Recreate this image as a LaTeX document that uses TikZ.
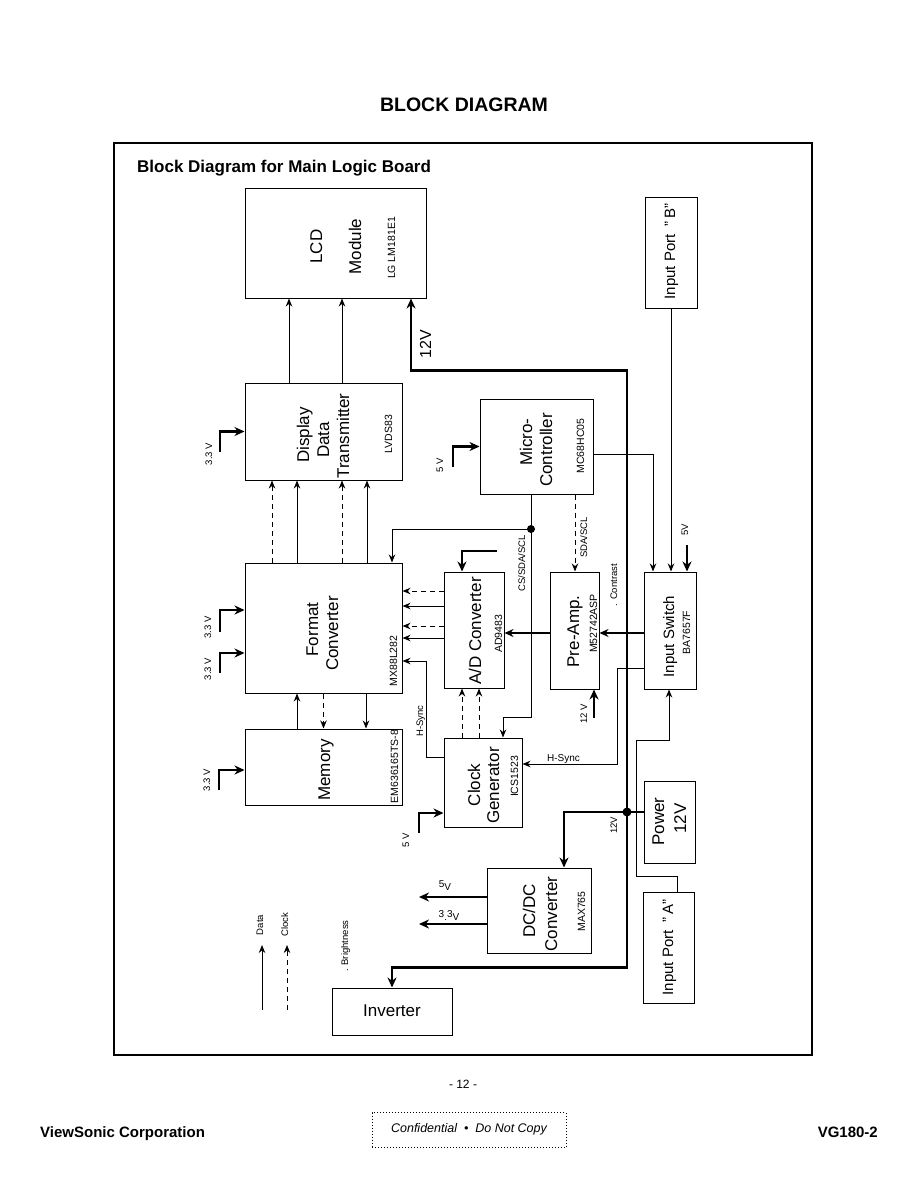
\documentclass[tikz,border=0pt]{standalone}
\usepackage{fontspec}
\setmainfont{Liberation Sans}
\usetikzlibrary{arrows.meta}
\newcommand{\sq}{{\char34}}
\begin{document}
\begin{tikzpicture}[x=1pt,y=-1pt,
  blk/.style={draw,line width=1pt,inner sep=0pt},
  big/.style={font=\fontsize{17}{20}\selectfont,rotate=90,anchor=base,inner sep=0pt},
  mid/.style={font=\fontsize{15}{18}\selectfont,rotate=90,anchor=base,inner sep=0pt},
  part/.style={font=\fontsize{10.5}{12}\selectfont,rotate=90,anchor=base,inner sep=0pt},
  lab/.style={font=\fontsize{9.5}{11}\selectfont,rotate=90,anchor=base,inner sep=0pt},
  hlab/.style={font=\fontsize{10}{11}\selectfont,anchor=base,inner sep=0pt},
  sig/.style={line width=1pt,-{Stealth[length=8pt,width=6.5pt]}},
  dsig/.style={sig,dash pattern=on 5pt off 4pt},
  med/.style={line width=1.8pt,-{Stealth[length=9pt,width=8pt]}},
  pwr/.style={line width=2.6pt,-{Stealth[length=10pt,width=9pt]}},
  pwire/.style={line width=2.6pt}]
\fill[white] (0,0) rectangle (918,1188);
\useasboundingbox (0,0) rectangle (918,1188);

% titles and frame
\node[font=\bfseries\fontsize{19.5}{22}\selectfont,inner sep=0pt] (title) at (464,105) {BLOCK DIAGRAM};
\node[draw,line width=1.2pt,minimum width=698,minimum height=912,inner sep=0pt] (frame) at (463,599) {};
\node[font=\bfseries\fontsize{17}{20}\selectfont,anchor=base west,inner sep=0pt] (subtitle) at (137,172) {Block Diagram for Main Logic Board};

% boxes
\node[blk,minimum width=181,minimum height=110] (lcd) at (335.5,243) {};
\node[blk,minimum width=157,minimum height=97] (ddt) at (323.5,431.5) {};
\node[blk,minimum width=113,minimum height=95] (mcu) at (536.5,446.5) {};
\node[blk,minimum width=157,minimum height=130] (fc) at (323.5,628) {};
\node[blk,minimum width=60,minimum height=116] (ad) at (474,630) {};
\node[blk,minimum width=49,minimum height=117] (pre) at (574.5,630.5) {};
\node[blk,minimum width=52,minimum height=117] (isw) at (670,630.5) {};
\node[blk,minimum width=157,minimum height=76] (mem) at (323.5,767) {};
\node[blk,minimum width=78,minimum height=89] (clk) at (483,782.5) {};
\node[blk,minimum width=51,minimum height=82] (pwr) at (669.5,822) {};
\node[blk,minimum width=104,minimum height=85] (dcdc) at (539,910.5) {};
\node[blk,minimum width=120,minimum height=47] (inv) at (392,1011.5) {};
\node[blk,minimum width=52,minimum height=111] (pb) at (671,252.5) {};
\node[blk,minimum width=51,minimum height=111] (pa) at (668.5,947.5) {};

% box texts
\node[big] (lcdA) at (322,246.5) {LCD};
\node[big] (lcdB) at (361,246.5) {Module};
\node[part] (lcdC) at (395,248) {LG LM181E1};
\node[big] (ddtA) at (309,435) {Display};
\node[big] (ddtB) at (329,440) {Data};
\node[big] (ddtC) at (349,436) {Transmitter};
\node[part] (ddtD) at (392,434) {LVDS83};
\node[big] (mcuA) at (532,442) {Micro-};
\node[big] (mcuB) at (552,450) {Controller};
\node[part] (mcuC) at (584,446) {MC68HC05};
\node[big] (fcA) at (318,629.5) {Format};
\node[big] (fcB) at (338,633.5) {Converter};
\node[part] (fcC) at (397,661) {MX88L282};
\node[big] (adA) at (481,631) {A/D Converter};
\node[part] (adB) at (502,634) {AD9483};
\node[big] (preA) at (579,631.5) {Pre-Amp.};
\node[part] (preB) at (597,623.5) {M52742ASP};
\node[mid] (iswA) at (674,636.5) {Input Switch};
\node[part] (iswB) at (690,632.5) {BA7657F};
\node[big] (memA) at (330,770) {Memory};
\node[part] (memB) at (398,766.5) {EM636165TS-8};
\node[big] (clkA) at (480,785) {Clock};
\node[big] (clkB) at (499,785.5) {Generator};
\node[part] (clkC) at (518,776.5) {ICS1523};
\node[big] (pwrA) at (664,821.5) {Power};
\node[big] (pwrB) at (686,818.5) {12V};
\node[big] (dcA) at (535,911) {DC/DC};
\node[big] (dcB) at (557,914) {Converter};
\node[part] (dcC) at (585,911.5) {MAX765};
\node[font=\fontsize{17}{20}\selectfont,inner sep=0pt] (invA) at (392,1011) {Inverter};
\node[mid] (pbA) at (675,251.5) {Input Port \ \sq\,B\sq};
\node[mid] (paA) at (673,947.5) {Input Port \ \sq\,A\sq};

% small labels
\node[lab] (v1l) at (212,454) {3.3 V};
\node[lab] (v2l) at (211,627.5) {3.3 V};
\node[lab] (v3l) at (211,669) {3.3 V};
\node[lab] (v4l) at (210,780) {3.3 V};
\node[lab] (v5l) at (443,465.5) {5 V};
\node[lab] (v6l) at (409,840) {5 V};
\node[lab] (v7l) at (688,530) {5V};
\node[lab] (v8l) at (587,714) {12 V};
\node[lab] (v9l) at (617,825.5) {12V};
\node[font=\fontsize{16}{18}\selectfont,rotate=90,anchor=base,inner sep=0pt] (v12l) at (431,344) {12V};
\node[lab] (csl) at (525,563.5) {CS/SDA/SCL};
\node[lab] (sdal) at (587,537.5) {SDA/SCL};
\node[lab] (conl) at (617,585) {. Contrast};
\node[lab] (hs1) at (423,721) {H-Sync};
\node[hlab] (hs2) at (563.5,761) {H-Sync};
\node[lab] (brl) at (348,946) {. Brightness};
\node[lab] (datal) at (263,925) {Data};
\node[lab] (clockl) at (288,924.5) {Clock};
\node[font=\fontsize{10}{11}\selectfont,inner sep=0pt] (o5l) at (445,886) {\raisebox{3pt}{5}V};
\node[font=\fontsize{10}{11}\selectfont,inner sep=0pt] (o33l) at (449,915) {\raisebox{3pt}{3}.\raisebox{3pt}{3}V};

% coordinates
\coordinate (pdot) at (627,812);
\coordinate (cdot) at (531,529);
\coordinate (t1) at (220,452);
\coordinate (t2) at (220,632);
\coordinate (t3) at (220,673);
\coordinate (t4) at (219,790);
\coordinate (t5) at (453,467);
\coordinate (t6) at (419,833);
\coordinate (t7) at (497,551);
\coordinate (t8) at (687,545);
\coordinate (t9) at (594,718);
\coordinate (o5) at (419,897);
\coordinate (o33) at (419,924);
\coordinate (lg1) at (262,1010);
\coordinate (lg2) at (287,1010);

% DDT -> LCD
\draw[sig] ([xshift=-34.5pt]ddt.north) -- ([xshift=-34.5pt]ddt.north |- lcd.south);
\draw[sig] ([xshift=18.5pt]ddt.north) -- ([xshift=18.5pt]ddt.north |- lcd.south);

% 12V power net
\draw[pwr] (pdot) |- ([xshift=75.5pt,yshift=-72pt]lcd.south) -- ([xshift=75.5pt]lcd.south);
\draw[pwr] (pdot) |- ([yshift=20pt]inv.north) -- (inv.north);
\draw[pwire] (pwr.west |- pdot) -- (pdot);
\draw[pwr] (pdot) -| ([xshift=25pt]dcdc.north);
\fill (pdot) circle (4.5pt);
\draw[pwr] (dcdc.west |- o5) -- (o5);
\draw[pwr] (dcdc.west |- o33) -- (o33);

% supply arrows
\draw[pwr] (t1) |- (ddt.west);
\draw[pwr] (t2) |- ([yshift=18pt]fc.west);
\draw[pwr] (t3) |- ([yshift=-25pt]fc.west);
\draw[pwr] (t4) |- ([yshift=-3pt]mem.west);
\draw[pwr] (t5) |- (mcu.west);
\draw[pwr] (t6) |- ([yshift=-30.5pt]clk.west);
\draw[pwr] (t7) -| ([xshift=-12pt]ad.north);
\draw[pwr] (t8) -- ([xshift=17pt]isw.north);
\draw[pwr] (t9) -- ([xshift=19.5pt]pre.south);

% FC -> DDT
\draw[dsig] ([xshift=-51.5pt]fc.north) -- ([xshift=-51.5pt]ddt.south);
\draw[sig] ([xshift=-26.5pt]fc.north) -- ([xshift=-26.5pt]ddt.south);
\draw[dsig] ([xshift=18.5pt]fc.north) -- ([xshift=18.5pt]ddt.south);
\draw[sig] ([xshift=43.5pt]fc.north) -- ([xshift=43.5pt]ddt.south);

% AD -> FC
\draw[dsig] ([yshift=39pt]ad.west) -- ([yshift=37pt]fc.east);
\draw[sig] ([yshift=24pt]ad.west) -- ([yshift=22pt]fc.east);
\draw[dsig] ([yshift=4pt]ad.west) -- ([yshift=2pt]fc.east);
\draw[sig] ([yshift=-8pt]ad.west) -- ([yshift=-10pt]fc.east);

% analog path
\draw[med] ([yshift=-2.5pt]pre.west) -- ([yshift=-3pt]ad.east);
\draw[med] ([yshift=-2.5pt]isw.west) -- ([yshift=-2.5pt]pre.east);

% micro-controller
\draw[sig] ([yshift=-7.5pt]mcu.east) -| ([xshift=-17pt]isw.north);
\draw[sig] (pb.south) -- (pb.south |- isw.north);
\draw[line width=1pt] ([xshift=-5.5pt]mcu.south) -- (cdot);
\fill (cdot) circle (4pt);
\draw[sig] (cdot) -| ([xshift=68.5pt]fc.north);
\draw[sig] (cdot) -- ++(0,188) -| ([xshift=20pt]clk.north);
\draw[dsig] ([xshift=38.5pt]mcu.south) -- ([xshift=38.5pt]mcu.south |- pre.north);

% H-Sync
\draw[sig] ([yshift=25.5pt]clk.west) -- ++(-17,0) |- ([yshift=-33pt]fc.east);
\draw[sig] ([yshift=-37.5pt]isw.west) -- ++(-26,0) |- ([yshift=18.5pt]clk.east);

% input port A
\draw[sig] ([xshift=8.5pt]pa.north) -- ++(0,-15) -- ++(-41,0) -- ++(0,-136) -| ([xshift=-1pt]isw.south);

% memory
\draw[sig] ([xshift=-26.5pt]mem.north) -- ([xshift=-26.5pt]fc.south);
\draw[dsig] (fc.south) -- (mem.north);
\draw[sig] ([xshift=42.5pt]fc.south) -- ([xshift=42.5pt]mem.north);

% clock -> AD
\draw[dsig] ([xshift=-21pt]clk.north) -- ([xshift=-12pt]ad.south);
\draw[dsig] ([xshift=-4pt]clk.north) -- ([xshift=5pt]ad.south);

% legend
\draw[sig] (lg1) -- ++(0,-65);
\draw[dsig] (lg2) -- ++(0,-65);

% footer
\node[font=\fontsize{12}{14}\selectfont,anchor=base,inner sep=0pt] (page) at (463,1088) {- 12 -};
\node[font=\bfseries\fontsize{15}{18}\selectfont,anchor=base west,inner sep=0pt] (vs) at (40,1137) {ViewSonic Corporation};
\node[font=\bfseries\fontsize{15}{18}\selectfont,anchor=base east,inner sep=0pt] (vg) at (878,1137) {VG180-2};
\node[draw,dotted,line width=1pt,minimum width=194,minimum height=35,inner sep=0pt] (confbox) at (469,1130) {};
\node[font=\itshape\fontsize{12.5}{14}\selectfont,anchor=base,inner sep=0pt] (conf) at (469,1132) {Confidential \ \textbullet\ \ Do Not Copy};
\end{tikzpicture}
\end{document}
